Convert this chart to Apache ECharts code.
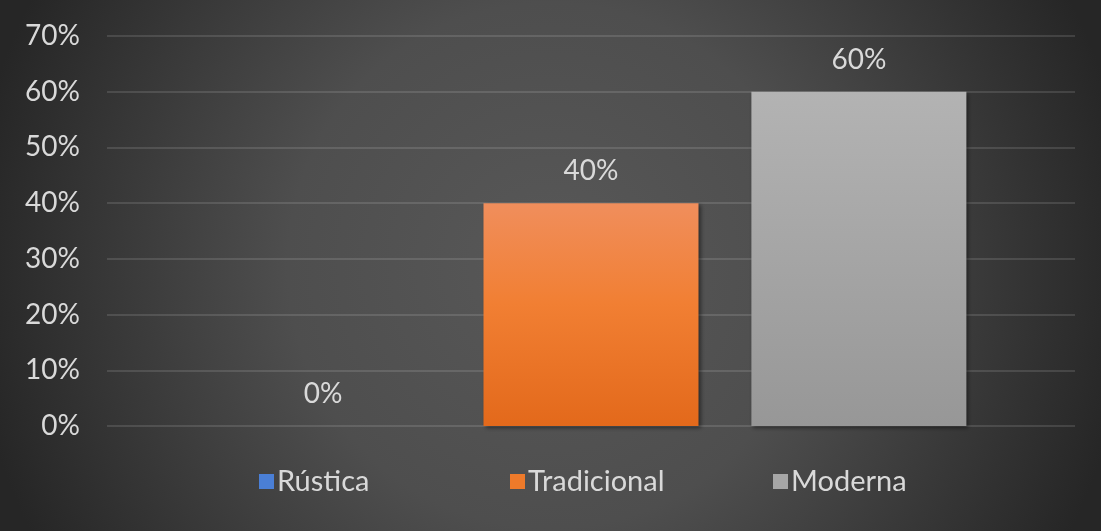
<!DOCTYPE html>
<html>
<head>
<meta charset="utf-8">
<script src="https://cdn.jsdelivr.net/npm/echarts@6/dist/echarts.min.js"></script>
<style>
html,body{margin:0;padding:0;background:#3a3a3a;}
#chart{width:1101px;height:531px;}
</style>
</head>
<body>
<div id="chart"></div>
<script>
const categories = [''];
const seriesNames = ['Rústica', 'Tradicional', 'Moderna'];
const seriesValues = [[0], [40], [60]];
const yTicks = [0, 10, 20, 30, 40, 50, 60, 70];

const FONT = 'Lato';
const TXT = '#d9d9d9';

const barColors = [
  {type:'linear',x:0,y:0,x2:0,y2:1,colorStops:[{offset:0,color:'#5b8de0'},{offset:1,color:'#3b6cc4'}]},
  {type:'linear',x:0,y:0,x2:0,y2:1,colorStops:[{offset:0,color:'#f08e5c'},{offset:0.45,color:'#f17f33'},{offset:1,color:'#e3691b'}]},
  {type:'linear',x:0,y:0,x2:0,y2:1,colorStops:[{offset:0,color:'#b3b3b3'},{offset:1,color:'#979797'}]}
];
const legendColors = ['#4a7fd6', '#ee7a2a', '#a6a6a6'];
const legendLefts = [254, 505, 768];

const chart = echarts.init(document.getElementById('chart'));
chart.setOption({
  backgroundColor: {
    type:'radial', x:0.5, y:0.5, r:1.1,
    colorStops:[{offset:0,color:'#585858'},{offset:0.45,color:'#4e4e4e'},{offset:1,color:'#262626'}]
  },
  animation:false,
  legend: seriesNames.map((n,i)=>({
    data:[{name:n, itemStyle:{color:legendColors[i]}}],
    left: legendLefts[i], top: 462,
    icon:'rect', itemWidth:15, itemHeight:15, itemGap:0,
    textStyle:{color:TXT, fontFamily:FONT, fontSize:29, padding:[0,0,0,-2]}
  })),
  grid:{left:107, right:26, top:36, bottom:105, containLabel:false},
  xAxis:{
    type:'category', data:categories,
    axisLine:{show:false}, axisTick:{show:false}, axisLabel:{show:false}
  },
  yAxis:{
    type:'value', min:0, max:yTicks[yTicks.length-1], interval:10,
    axisLabel:{color:TXT, fontFamily:FONT, fontSize:28, formatter:'{value}%', margin:27},
    splitLine:{lineStyle:{color:'rgba(255,255,255,0.12)', width:2}},
    axisLine:{show:false}, axisTick:{show:false}
  },
  series: seriesNames.map((n,i)=>({
    name:n, type:'bar', data:seriesValues[i],
    barWidth:215, barGap:'24.6%',
    itemStyle:{color:barColors[i], shadowColor:'rgba(0,0,0,0.45)', shadowBlur:4, shadowOffsetX:2, shadowOffsetY:2},
    label:{show:true, position:'top', distance:18, color:TXT, fontFamily:FONT, fontSize:28, formatter:'{c}%'}
  }))
});
</script>
</body>
</html>
